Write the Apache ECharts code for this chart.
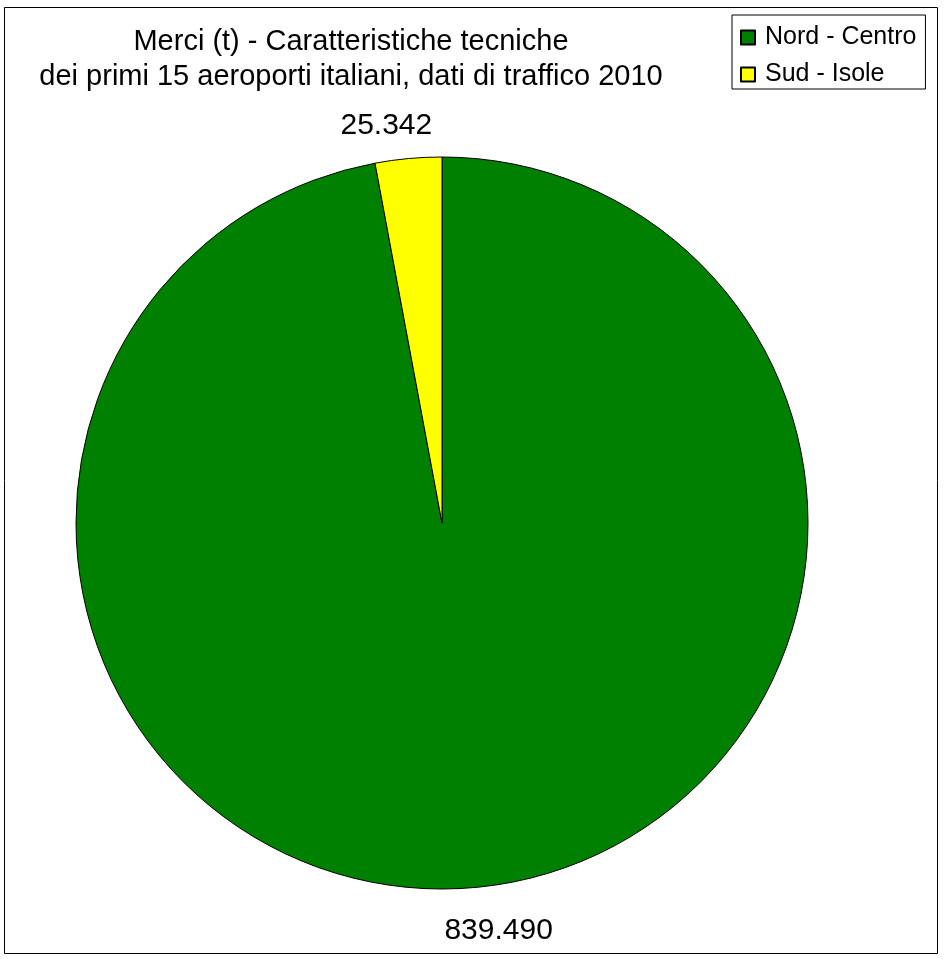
<!DOCTYPE html>
<html>
<head>
<meta charset="utf-8">
<title>Merci (t) - aeroporti italiani 2010</title>
<script src="https://cdn.jsdelivr.net/npm/echarts@6/dist/echarts.min.js"></script>
<style>
    html, body { margin: 0; padding: 0; background: #fff; }
    #chart { width: 944px; height: 959px; }
</style>
</head>
<body>
<div id="chart"></div>
<script>
// dati di traffico 2010, merci in tonnellate
var areeNomi = ["Nord - Centro", "Sud - Isole"];
var merciValori = [839490, 25342];
var areeColori = ["#008000", "#ffff00"];
// lunghezza della linea (nascosta) per posizionare le etichette
var lineaLen = [43, 33];
var lineaLen2 = [14, 14];

var FONT = "'Liberation Sans', Arial, sans-serif";

function formatIt(v) {
    // separatore delle migliaia all'italiana
    return String(v).replace(/\B(?=(\d{3})+(?!\d))/g, ".");
}

var pieData = [];
for (var i = 0; i < areeNomi.length; i++) {
    pieData.push({
        name: areeNomi[i],
        value: merciValori[i],
        itemStyle: { color: areeColori[i] },
        labelLine: { show: false, length: lineaLen[i], length2: lineaLen2[i] }
    });
}

var myChart = echarts.init(document.getElementById("chart"));
var option = {
    backgroundColor: "#fff",
    animation: false,
    title: {
        text: "Merci (t) - Caratteristiche tecniche\ndei primi 15 aeroporti italiani, dati di traffico 2010",
        left: 351,
        top: 24,
        textAlign: "center",
        padding: 0,
        textStyle: {
            fontFamily: FONT,
            fontSize: 29,
            fontWeight: "normal",
            color: "#000",
            lineHeight: 35
        }
    },
    legend: {
        orient: "vertical",
        left: 732,
        top: 15,
        padding: [10, 9, 2, 8],
        itemWidth: 14,
        itemHeight: 14,
        itemGap: 12,
        icon: "rect",
        borderColor: "#000",
        borderWidth: 1,
        selectedMode: false,
        data: areeNomi,
        textStyle: { fontFamily: FONT, fontSize: 25, color: "#000", padding: [0, 0, 0, 5] }
    },
    graphic: [{
        type: "rect",
        shape: { x: 4.5, y: 7.5, width: 933, height: 946 },
        style: { fill: "none", stroke: "#000", lineWidth: 1 },
        silent: true
    }],
    series: [{
        type: "pie",
        center: [442, 523],
        radius: 366,
        startAngle: 90,
        clockwise: true,
        avoidLabelOverlap: false,
        itemStyle: { borderColor: "#000", borderWidth: 1 },
        emphasis: { disabled: true },
        label: {
            show: true,
            position: "outside",
            fontFamily: FONT,
            fontSize: 30,
            color: "#000",
            formatter: function (p) { return formatIt(p.value); }
        },
        labelLayout: { align: "center" },
        data: pieData
    }]
};
myChart.setOption(option);
window.onresize = myChart.resize;
</script>
</body>
</html>
